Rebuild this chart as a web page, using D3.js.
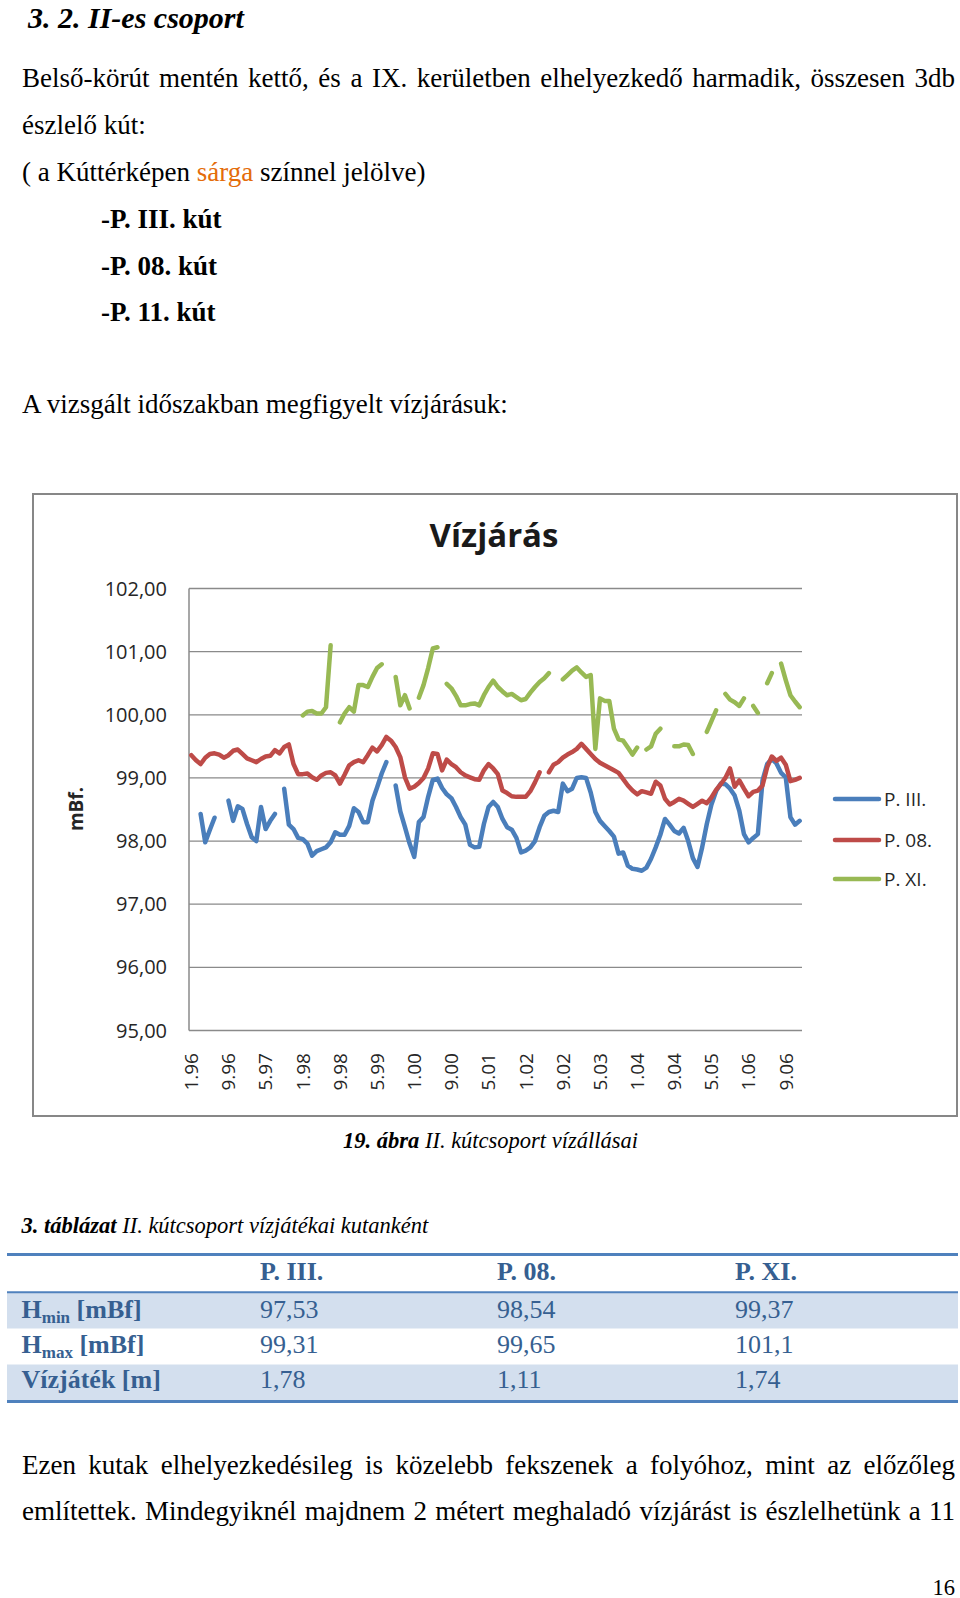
<!DOCTYPE html>
<html><head><meta charset="utf-8">
<script src="https://cdn.jsdelivr.net/npm/d3@7/dist/d3.min.js"></script>
<style>body{margin:0;background:#fff}svg{display:block}</style>
</head><body>
<script>
// ---------- DATA ----------
const tickLabels = ["1.96","9.96","5.97","1.98","9.98","5.99","1.00","9.00","5.01","1.02","9.02","5.03","1.04","9.04","5.05","1.06","9.06"];
const seriesNames = ["P. III.","P. 08.","P. XI."];
const yTicks = [95,96,97,98,99,100,101,102];
const _ = null;
const pIII = [_,_,98.43,97.98,98.18,98.37,_,_,98.64,98.32,98.55,98.51,98.27,98.06,98.0,98.54,98.19,98.32,98.43,_,
 98.83,98.26,98.19,98.05,98.03,97.96,97.77,97.84,97.87,97.9,97.98,98.14,98.1,98.1,98.24,98.52,98.46,98.3,98.3,98.64,
 98.85,99.07,99.25,_,98.88,98.47,98.22,97.96,97.75,98.3,98.38,98.7,98.97,98.99,98.84,98.74,98.68,98.54,98.38,98.26,
 97.94,97.9,97.91,98.27,98.54,98.62,98.54,98.35,98.22,98.18,98.05,97.82,97.85,97.9,98.0,98.22,98.4,98.46,98.48,98.46,
 98.91,98.79,98.83,99.0,99.01,99.0,98.77,98.46,98.32,98.24,98.16,98.07,97.8,97.82,97.61,97.56,97.55,97.53,97.58,97.72,
 97.9,98.1,98.35,98.26,98.16,98.12,98.21,98.0,97.73,97.59,97.9,98.27,98.58,98.79,98.91,98.9,98.83,98.72,98.48,98.11,
 97.98,98.05,98.11,98.96,99.22,99.3,99.23,99.08,99.01,98.38,98.26,98.32];
const p08 = [99.36,99.28,99.22,99.32,99.38,99.39,99.37,99.32,99.36,99.43,99.45,99.38,99.31,99.28,99.25,99.3,99.34,99.35,99.44,99.39,
 99.49,99.53,99.22,99.06,99.06,99.07,99.01,98.97,99.04,99.08,99.09,99.04,98.91,99.05,99.2,99.25,99.28,99.25,99.36,99.48,
 99.42,99.52,99.65,99.59,99.49,99.33,99.01,98.83,98.86,98.92,99.0,99.15,99.39,99.38,99.12,99.29,99.22,99.17,99.09,99.04,
 99.01,98.98,98.97,99.12,99.22,99.15,99.06,98.8,98.76,98.71,98.7,98.7,98.7,98.79,98.93,99.09,_,99.09,99.21,99.25,
 99.32,99.37,99.41,99.46,99.54,99.46,99.38,99.3,99.24,99.2,99.16,99.12,99.08,98.98,98.88,98.8,98.74,98.79,98.77,98.75,
 98.94,98.88,98.67,98.58,98.62,98.67,98.64,98.59,98.54,98.59,98.64,98.6,98.69,98.81,98.9,99.0,99.15,98.86,98.96,98.83,
 98.71,98.78,98.8,98.88,99.17,99.34,99.27,99.32,99.21,98.95,98.97,99.0];
const pXI = [_,_,_,_,_,_,_,_,_,_,_,_,_,_,_,_,_,_,_,_,
 _,_,_,_,99.99,100.05,100.06,100.02,100.02,100.12,101.1,_,99.88,100.02,100.12,100.05,100.47,100.47,100.44,100.6,
 100.74,100.8,_,_,100.6,100.15,100.31,100.1,_,100.27,100.47,100.74,101.05,101.07,_,100.49,100.42,100.3,100.15,100.15,
 100.17,100.18,100.15,100.31,100.44,100.54,100.44,100.37,100.31,100.33,100.28,100.23,100.25,100.35,100.44,100.52,100.58,100.66,_,_,
 100.56,100.63,100.7,100.75,100.67,100.6,100.63,99.46,100.26,100.22,100.22,99.78,99.61,99.59,99.48,99.37,99.48,_,99.45,99.5,
 99.7,99.78,_,_,99.5,99.5,99.53,99.52,99.38,_,_,99.73,99.9,100.07,_,100.33,100.24,100.2,100.14,100.26,
 _,100.14,100.03,_,100.5,100.66,_,100.81,100.55,100.31,100.21,100.12];
const tableCols = ["P. III.","P. 08.","P. XI."];
const hmin = ["97,53","98,54","99,37"];
const hmax = ["99,31","99,65","101,1"];
const vizjatek = ["1,78","1,11","1,74"];
const colors = ["#4A7EBB","#BE4B48","#98B954"];

// ---------- PAGE ----------
const W = 960, H = 1598;
const svg = d3.select("body").append("svg").attr("width", W).attr("height", H);
svg.append("rect").attr("width", W).attr("height", H).attr("fill", "#fff");
const SERIF = "'Liberation Serif','Times New Roman',serif";
const BODY = 27;

function txt(x, y, parts, size, anchor) {
  const t = svg.append("text").attr("x", x).attr("y", y)
    .attr("font-family", SERIF).attr("font-size", size).attr("fill", "#000");
  if (anchor) t.attr("text-anchor", anchor);
  parts.forEach(p => {
    const s = t.append("tspan").text(p.t);
    if (p.b) s.attr("font-weight", "bold");
    if (p.i) s.attr("font-style", "italic");
    if (p.c) s.attr("fill", p.c);
    if (p.s) s.attr("font-size", p.s);
    if (p.dy) s.attr("dy", p.dy);
  });
  return t;
}
function justify(line, x0, x1, y, size) {
  const words = line.split(" ");
  const t = svg.append("text").attr("y", y).attr("font-family", SERIF)
    .attr("font-size", size).attr("fill", "#000");
  const spans = words.map(w => t.append("tspan").text(w));
  const ws = spans.map(s => s.node().getComputedTextLength());
  const gap = (x1 - x0 - d3.sum(ws)) / (words.length - 1);
  let cx = x0;
  spans.forEach((s, k) => { s.attr("x", cx); cx += ws[k] + gap; });
}

txt(28, 27.5, [{t: "3. 2. II-es csoport", b: 1, i: 1}], 30);
justify("Belső-körút mentén kettő, és a IX. kerületben elhelyezkedő harmadik, összesen 3db", 22, 955, 87, BODY);
txt(22, 133.5, [{t: "észlelő kút:"}], BODY);
txt(22, 180.5, [{t: "( a Kúttérképen "}, {t: "sárga", c: "#E46C0A"}, {t: " színnel jelölve)"}], BODY);
txt(101, 227.5, [{t: "-P. III. kút", b: 1}], BODY);
txt(101, 274.5, [{t: "-P. 08. kút", b: 1}], BODY);
txt(101, 321, [{t: "-P. 11. kút", b: 1}], BODY);
txt(22, 413, [{t: "A vizsgált időszakban megfigyelt vízjárásuk:"}], BODY);

// ---------- CHART ----------
svg.append("rect").attr("x", 33).attr("y", 494).attr("width", 924).attr("height", 622)
  .attr("fill", "#fff").attr("stroke", "#878787").attr("stroke-width", 2);

const n = p08.length;
const x = d3.scaleBand().domain(d3.range(n)).range([189, 802]);
const cx = i => x(i) + x.bandwidth() / 2;
const y = d3.scaleLinear().domain([95, 102]).range([1030.5, 588.5]);
const SANS = "'Open Sans','Noto Sans',sans-serif";
const chart = svg.append("g");

chart.append("text").attr("x", 494).attr("y", 546.5).attr("text-anchor", "middle")
  .attr("font-family", SANS).attr("font-weight", "bold").attr("font-size", 33)
  .attr("fill", "#1a1a1a").text("Vízjárás");

// gridlines
chart.append("g").selectAll("line").data(yTicks).join("line")
  .attr("x1", 189).attr("x2", 802).attr("y1", d => y(d)).attr("y2", d => y(d))
  .attr("stroke", "#8a8a8a").attr("stroke-width", 1.3);
chart.append("line").attr("x1", 189).attr("x2", 189).attr("y1", y(102)).attr("y2", y(95))
  .attr("stroke", "#8a8a8a").attr("stroke-width", 1.5);

const fmt = d => d3.format(".2f")(d).replace(".", ",");
chart.append("g").selectAll("text").data(yTicks).join("text")
  .attr("x", 167).attr("y", d => y(d)).attr("dy", "0.35em").attr("text-anchor", "end")
  .attr("font-family", SANS).attr("font-size", 20).attr("fill", "#262626").text(fmt);

const xAxis = d3.axisBottom(x).tickValues(d3.range(0, n, 8))
  .tickFormat(i => tickLabels[i / 8]).tickSize(0);
const gx = chart.append("g").attr("transform", `translate(0,${y(95)})`).call(xAxis);
gx.select(".domain").remove();
gx.selectAll("text").attr("transform", "rotate(-90)").attr("x", -22.5).attr("y", 0)
  .attr("dy", "0.36em").attr("text-anchor", "end")
  .attr("font-family", SANS).attr("font-size", 19).attr("fill", "#262626");

chart.append("text").attr("transform", "translate(76,809) rotate(-90)")
  .attr("text-anchor", "middle").attr("dy", "0.35em")
  .attr("font-family", SANS).attr("font-weight", "bold").attr("font-size", 19)
  .attr("fill", "#262626").text("mBf.");

const line = d3.line().defined(d => d != null).x((d, i) => cx(i)).y(d => y(d));
[pIII, p08, pXI].forEach((s, k) => {
  chart.append("path").datum(s).attr("d", line).attr("fill", "none")
    .attr("stroke", colors[k]).attr("stroke-width", 4.5)
    .attr("stroke-linejoin", "round").attr("stroke-linecap", "round");
});

// legend
const legY = [799, 840, 879];
seriesNames.forEach((nm, k) => {
  chart.append("line").attr("x1", 835).attr("x2", 879).attr("y1", legY[k]).attr("y2", legY[k])
    .attr("stroke", colors[k]).attr("stroke-width", 4.5).attr("stroke-linecap", "round");
  chart.append("text").attr("x", 884).attr("y", legY[k]).attr("dy", "0.35em")
    .attr("font-family", SANS).attr("font-size", 19).attr("fill", "#262626").text(nm);
});

// ---------- CAPTION & TABLE ----------
txt(343, 1148, [{t: "19. ábra", b: 1, i: 1}, {t: " II. kútcsoport vízállásai", i: 1}], 22.5);
txt(21.5, 1233, [{t: "3. táblázat", b: 1, i: 1}, {t: " II. kútcsoport vízjátékai kutanként", i: 1}], 22.5);

const TC = "#365F91", TL = "#4F81BD", SH = "#D3DFEE";
svg.append("rect").attr("x", 7).attr("y", 1293).attr("width", 951).attr("height", 35.5).attr("fill", SH);
svg.append("rect").attr("x", 7).attr("y", 1364.5).attr("width", 951).attr("height", 36).attr("fill", SH);
svg.append("line").attr("x1", 7).attr("x2", 958).attr("y1", 1254.5).attr("y2", 1254.5).attr("stroke", TL).attr("stroke-width", 2.8);
svg.append("line").attr("x1", 7).attr("x2", 958).attr("y1", 1292.3).attr("y2", 1292.3).attr("stroke", TL).attr("stroke-width", 2);
svg.append("line").attr("x1", 7).attr("x2", 958).attr("y1", 1401.5).attr("y2", 1401.5).attr("stroke", TL).attr("stroke-width", 2.8);

const colX = [260, 497, 735];
tableCols.forEach((c, k) => txt(colX[k], 1280, [{t: c, b: 1, c: TC}], 26));
const rows = [
  {label: [{t: "H", b: 1, c: TC}, {t: "min", b: 1, c: TC, s: 17, dy: 5}, {t: " [mBf]", b: 1, c: TC, dy: -5}], vals: hmin, y: 1318},
  {label: [{t: "H", b: 1, c: TC}, {t: "max", b: 1, c: TC, s: 17, dy: 5}, {t: " [mBf]", b: 1, c: TC, dy: -5}], vals: hmax, y: 1353},
  {label: [{t: "Vízjáték [m]", b: 1, c: TC}], vals: vizjatek, y: 1388}
];
rows.forEach(r => {
  txt(21.5, r.y, r.label, 26);
  r.vals.forEach((v, k) => txt(colX[k], r.y, [{t: v, c: TC}], 26));
});

// ---------- BOTTOM TEXT ----------
justify("Ezen kutak elhelyezkedésileg is közelebb fekszenek a folyóhoz, mint az előzőleg", 22, 955, 1473.5, BODY);
justify("említettek. Mindegyiknél majdnem 2 métert meghaladó vízjárást is észlelhetünk a 11", 22, 955, 1520, BODY);
txt(955, 1594.5, [{t: "16"}], 22.5, "end");
</script>
</body></html>
